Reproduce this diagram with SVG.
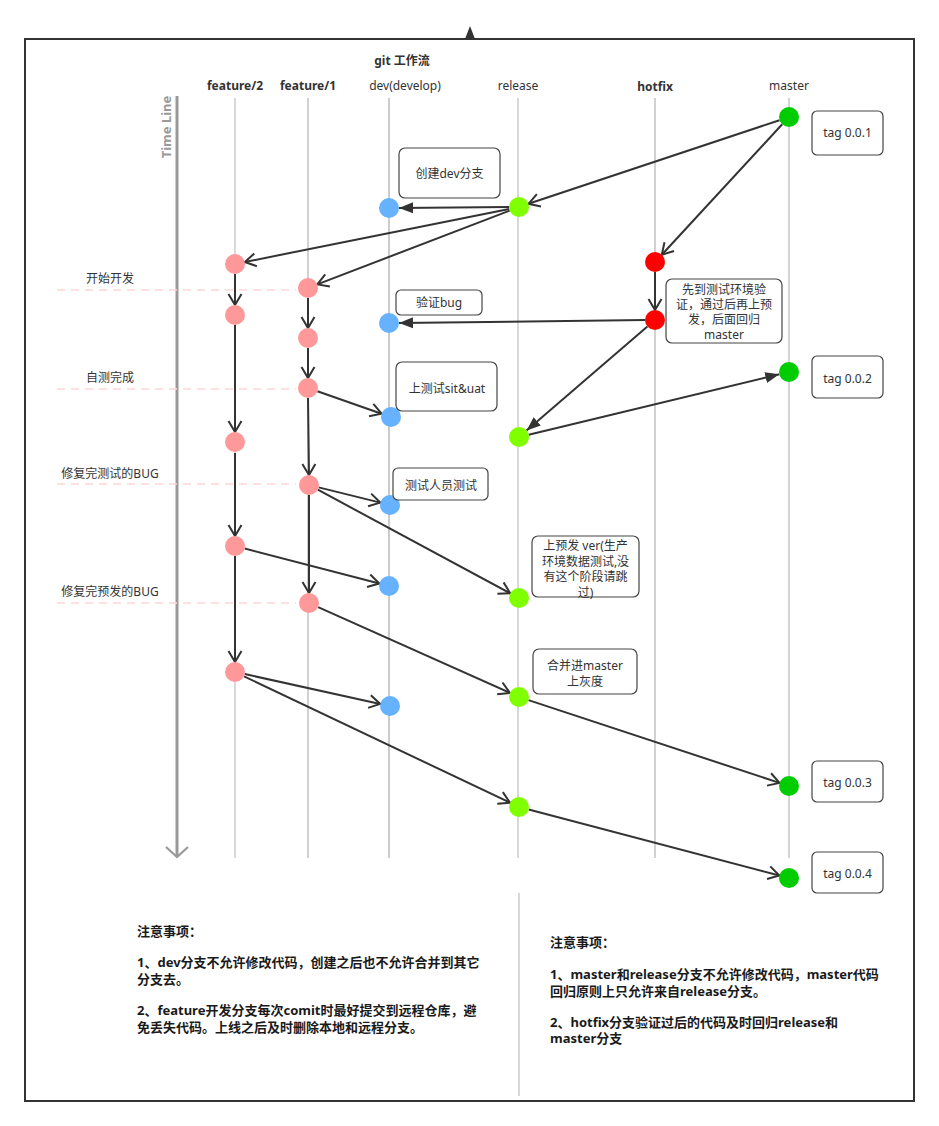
<svg xmlns="http://www.w3.org/2000/svg" width="939" height="1126" viewBox="0 0 939 1126">
<style>
text{font-family:"Noto Sans","Noto Sans CJK SC",sans-serif;fill:#333;font-size:12px}
.b{font-weight:bold}
.hd{text-anchor:middle}
.lane{stroke:#c4c4c4;stroke-width:1.3}
.dash{stroke:#ffd6d6;stroke-width:1.3;stroke-dasharray:8 6}
.e{stroke:#333;stroke-width:2;fill:none;marker-end:url(#open)}
.eb{stroke:#333;stroke-width:2;fill:none;marker-end:url(#block)}
.box{fill:#fff;stroke:#444;stroke-width:1.2}
.ct{text-anchor:middle;font-size:12px}
.f{fill:#ff9999}.d{fill:#66b2ff}.r{fill:#80ff00}.h{fill:#ff0000}.m{fill:#00cc00}
.note{font-weight:bold;font-size:13px;fill:#1a1a1a}
</style>
<defs>
<marker id="open" markerUnits="userSpaceOnUse" markerWidth="16" markerHeight="16" refX="12" refY="8" orient="auto"><path d="M1,1.5 L12,8 L1,14.5" fill="none" stroke="#333" stroke-width="2"/></marker>
<marker id="block" markerUnits="userSpaceOnUse" markerWidth="16" markerHeight="14" refX="14" refY="7" orient="auto"><path d="M0,1.5 L14,7 L0,12.5 z" fill="#333"/></marker>
</defs>
<rect width="939" height="1126" fill="#fff"/>
<g id="frame">
<rect x="25" y="39" width="889" height="1062" fill="none" stroke="#333" stroke-width="2"/>
<polygon points="470,26 465,39 475,39" fill="#333"/>
</g>
<g id="title"><text x="402" y="65" class="b hd">git 工作流</text></g>
<g id="headers">
<text x="235" y="90" class="b hd">feature/2</text>
<text x="308" y="90" class="b hd">feature/1</text>
<text x="405" y="90" class="hd">dev(develop)</text>
<text x="518" y="90" class="hd">release</text>
<text x="655" y="91" class="b hd">hotfix</text>
<text x="789" y="90" class="hd">master</text>
</g>
<g id="lanes">
<line x1="235" y1="98" x2="235" y2="858" class="lane"/>
<line x1="308" y1="98" x2="308" y2="858" class="lane" style="stroke:#b8b8b8"/>
<line x1="389" y1="98" x2="389" y2="858" class="lane" style="stroke:#b0b0b0"/>
<line x1="518" y1="98" x2="518" y2="858" class="lane"/>
<line x1="519" y1="893" x2="519" y2="1096" class="lane"/>
<line x1="655" y1="98" x2="655" y2="858" class="lane" style="stroke:#b8b8b8"/>
<line x1="789" y1="98" x2="789" y2="858" class="lane" style="stroke:#bdbdbd"/>
</g>
<g id="timeline">
<line x1="177" y1="96" x2="177" y2="856" stroke="#999" stroke-width="3"/>
<path d="M166,847 L177,857 L188,847" fill="none" stroke="#999" stroke-width="2.2"/>
<text transform="translate(171,127) rotate(-90)" class="b" text-anchor="middle" style="fill:#999;font-size:13px">Time Line</text>
</g>
<g id="stages">
<line x1="57" y1="290" x2="296" y2="290" class="dash"/>
<line x1="57" y1="389" x2="296" y2="389" class="dash"/>
<line x1="57" y1="484" x2="296" y2="484" class="dash"/>
<line x1="57" y1="603" x2="296" y2="603" class="dash"/>
<text x="110" y="283" class="hd">开始开发</text>
<text x="110" y="382" class="hd">自测完成</text>
<text x="110" y="478" class="hd">修复完测试的BUG</text>
<text x="110" y="596" class="hd">修复完预发的BUG</text>
</g>
<g id="connectors">
<line x1="779.5" y1="120.2" x2="528.5" y2="203.8" class="e"/>
<line x1="782.2" y1="124.3" x2="661.8" y2="254.7" class="e"/>
<line x1="509" y1="207.1" x2="399" y2="207.9" class="eb"/>
<line x1="509.2" y1="209" x2="244.8" y2="262" class="e"/>
<line x1="509.7" y1="210.6" x2="317.3" y2="284.4" class="e"/>
<line x1="235" y1="274" x2="235" y2="305" class="e"/>
<line x1="235" y1="325" x2="235" y2="432" class="e"/>
<line x1="235" y1="453" x2="235" y2="536" class="e"/>
<line x1="235" y1="556" x2="235" y2="662" class="e"/>
<line x1="308" y1="298" x2="308" y2="328" class="e"/>
<line x1="308" y1="348" x2="308" y2="378" class="e"/>
<line x1="308" y1="398" x2="309" y2="475" class="e"/>
<line x1="309" y1="495" x2="309" y2="593" class="e"/>
<line x1="655" y1="272" x2="655" y2="310" class="e"/>
<line x1="645" y1="320.1" x2="399" y2="322.9" class="eb"/>
<line x1="647.4" y1="326.5" x2="526.6" y2="430.5" class="eb"/>
<line x1="528.7" y1="434.7" x2="779.3" y2="374.3" class="eb"/>
<line x1="317.4" y1="391.3" x2="381.6" y2="413.7" class="e"/>
<line x1="318.7" y1="487.4" x2="380.3" y2="502.6" class="e"/>
<line x1="317.8" y1="489.7" x2="510.2" y2="593.3" class="e"/>
<line x1="244.7" y1="548.5" x2="379.3" y2="583.5" class="e"/>
<line x1="318.1" y1="607.1" x2="509.9" y2="692.9" class="e"/>
<line x1="244.8" y1="674.1" x2="380.2" y2="703.9" class="e"/>
<line x1="244" y1="676.3" x2="510" y2="802.7" class="e"/>
<line x1="528.5" y1="700.1" x2="779.5" y2="782.9" class="e"/>
<line x1="528.7" y1="809.5" x2="779.3" y2="875.5" class="e"/>
</g>
<g id="feature2-commits">
<circle cx="235" cy="264" r="10" class="f"/>
<circle cx="235" cy="315" r="10" class="f"/>
<circle cx="235" cy="442" r="10" class="f"/>
<circle cx="235" cy="546" r="10" class="f"/>
<circle cx="235" cy="672" r="10" class="f"/>
</g>
<g id="feature1-commits">
<circle cx="308" cy="288" r="10" class="f"/>
<circle cx="308" cy="338" r="10" class="f"/>
<circle cx="308" cy="388" r="10" class="f"/>
<circle cx="309" cy="485" r="10" class="f"/>
<circle cx="309" cy="603" r="10" class="f"/>
</g>
<g id="dev-commits">
<circle cx="389" cy="208" r="10" class="d"/>
<circle cx="389" cy="323" r="10" class="d"/>
<circle cx="391" cy="417" r="10" class="d"/>
<circle cx="390" cy="505" r="10" class="d"/>
<circle cx="389" cy="586" r="10" class="d"/>
<circle cx="390" cy="706" r="10" class="d"/>
</g>
<g id="release-commits">
<circle cx="519" cy="207" r="10" class="r"/>
<circle cx="519" cy="437" r="10" class="r"/>
<circle cx="519" cy="598" r="10" class="r"/>
<circle cx="519" cy="697" r="10" class="r"/>
<circle cx="519" cy="807" r="10" class="r"/>
</g>
<g id="hotfix-commits">
<circle cx="655" cy="262" r="10" class="h"/>
<circle cx="655" cy="320" r="10" class="h"/>
</g>
<g id="master-commits">
<circle cx="789" cy="117" r="10" class="m"/>
<circle cx="789" cy="372" r="10" class="m"/>
<circle cx="789" cy="786" r="10" class="m"/>
<circle cx="789" cy="878" r="10" class="m"/>
</g>
<g id="note-create-dev">
<rect x="399" y="148" width="101" height="50" rx="6" class="box"/>
<text x="449.5" y="178" class="ct">创建dev分支</text>
</g>
<g id="note-verify-bug">
<rect x="396" y="290" width="86" height="25" rx="5" class="box"/>
<text x="439" y="307" class="ct">验证bug</text>
</g>
<g id="note-sit-uat">
<rect x="396" y="362" width="101" height="49" rx="6" class="box"/>
<text x="447" y="393" class="ct">上测试sit&amp;uat</text>
</g>
<g id="note-tester">
<rect x="393" y="468" width="95" height="32" rx="5" class="box"/>
<text x="441" y="490" class="ct">测试人员测试</text>
</g>
<g id="note-hotfix">
<rect x="666" y="279" width="116" height="64" rx="6" class="box"/>
<text class="ct"><tspan x="724" y="294">先到测试环境验</tspan><tspan x="724" y="309">证，通过后再上预</tspan><tspan x="724" y="324">发，后面回归</tspan><tspan x="724" y="339">master</tspan></text>
</g>
<g id="note-pre">
<rect x="532" y="536" width="107" height="61" rx="6" class="box"/>
<text class="ct"><tspan x="585.5" y="550">上预发 ver(生产</tspan><tspan x="585.5" y="565.5">环境数据测试,没</tspan><tspan x="585.5" y="581">有这个阶段请跳</tspan><tspan x="585.5" y="596.5">过)</tspan></text>
</g>
<g id="note-merge-master">
<rect x="533" y="649" width="104" height="45" rx="6" class="box"/>
<text class="ct"><tspan x="585" y="670">合并进master</tspan><tspan x="585" y="686">上灰度</tspan></text>
</g>
<g id="tag1"><rect x="812" y="111" width="71" height="44" rx="5" class="box"/><text x="847.5" y="137" class="ct">tag 0.0.1</text></g>
<g id="tag2"><rect x="812" y="356" width="71" height="42" rx="5" class="box"/><text x="847.5" y="383" class="ct">tag 0.0.2</text></g>
<g id="tag3"><rect x="812" y="761" width="71" height="41" rx="5" class="box"/><text x="847.5" y="787" class="ct">tag 0.0.3</text></g>
<g id="tag4"><rect x="812" y="852" width="71" height="41" rx="5" class="box"/><text x="847.5" y="878" class="ct">tag 0.0.4</text></g>
<g id="notes-left">
<text class="note"><tspan x="137" y="936">注意事项：</tspan><tspan x="137" y="967">1、dev分支不允许修改代码，创建之后也不允许合并到其它</tspan><tspan x="137" y="984">分支去。</tspan><tspan x="137" y="1015">2、feature开发分支每次comit时最好提交到远程仓库，避</tspan><tspan x="137" y="1032">免丢失代码。上线之后及时删除本地和远程分支。</tspan></text>
</g>
<g id="notes-right">
<text class="note"><tspan x="550" y="947">注意事项：</tspan><tspan x="550" y="979">1、master和release分支不允许修改代码，master代码</tspan><tspan x="550" y="996">回归原则上只允许来自release分支。</tspan><tspan x="550" y="1027">2、hotfix分支验证过后的代码及时回归release和</tspan><tspan x="550" y="1043">master分支</tspan></text>
</g>
</svg>
